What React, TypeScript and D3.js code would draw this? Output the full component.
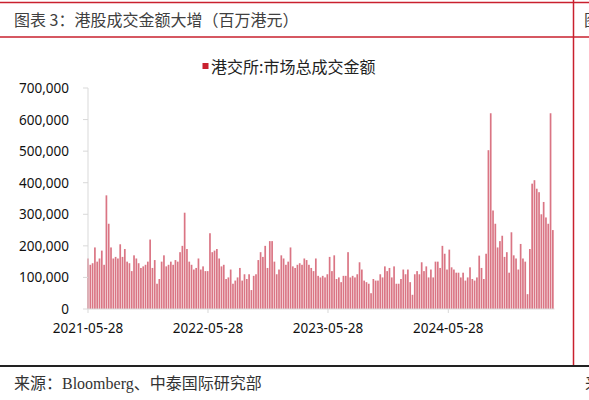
import React from 'react';
import * as d3 from 'd3';

// weekly turnover readings (HKD mn), one per week starting 2021-05-28
const startDate = new Date(2021, 4, 28);
const endDate = new Date(2025, 3, 16);

const turnover = [
  160000, 140000, 145000, 195000, 150000, 160000, 185000, 140000, 360000, 270000,
  195000, 160000, 165000, 160000, 205000, 165000, 190000, 150000, 145000, 120000,
  170000, 160000, 145000, 130000, 135000, 140000, 150000, 220000, 130000, 155000,
  80000, 95000, 150000, 170000, 135000, 140000, 150000, 140000, 155000, 150000,
  180000, 200000, 305000, 190000, 150000, 140000, 125000, 130000, 160000, 125000,
  135000, 120000, 120000, 240000, 180000, 185000, 190000, 160000, 135000, 140000,
  95000, 100000, 125000, 80000, 90000, 100000, 130000, 90000, 110000, 95000,
  110000, 60000, 105000, 110000, 155000, 180000, 165000, 200000, 130000, 215000,
  215000, 150000, 110000, 125000, 170000, 160000, 140000, 150000, 195000, 135000,
  130000, 140000, 145000, 140000, 160000, 155000, 140000, 130000, 120000, 160000,
  105000, 100000, 105000, 100000, 110000, 165000, 120000, 170000, 95000, 100000,
  85000, 105000, 105000, 180000, 100000, 105000, 100000, 110000, 148000, 125000,
  90000, 85000, 80000, 50000, 95000, 90000, 90000, 110000, 100000, 135000,
  120000, 130000, 100000, 135000, 80000, 80000, 95000, 125000, 110000, 125000,
  85000, 45000, 110000, 120000, 110000, 148000, 120000, 135000, 100000, 125000,
  100000, 150000, 150000, 130000, 200000, 175000, 125000, 188000, 132000, 125000,
  115000, 115000, 100000, 115000, 90000, 100000, 132000, 95000, 90000, 100000,
  169000, 130000, 95000, 175000, 503000, 620000, 312000, 270000, 195000, 215000,
  232000, 165000, 180000, 115000, 243000, 170000, 160000, 125000, 206000, 160000,
  150000, 47000, 190000, 397000, 408000, 381000, 370000, 300000, 339000, 290000,
  270000, 620000, 250000,
];

const xTickLabels = ['2021-05-28', '2022-05-28', '2023-05-28', '2024-05-28'];
const yTickValues = [0, 100000, 200000, 300000, 400000, 500000, 600000, 700000];

const title = '图表 3：港股成交金额大增（百万港元）';
const legendLabel = '港交所:市场总成交金额';
const source = '来源：Bloomberg、中泰国际研究部';

const RED = '#c9202e';
const BAR = '#c8344a';

export default function App() {
  const width = 589;
  const height = 400;
  const plot = { left: 88, right: 554.5, top: 88, bottom: 309 };

  const xScale = d3.scaleTime().domain([startDate, endDate]).range([plot.left, plot.right]);
  const yScale = d3.scaleLinear().domain([0, 700000]).range([plot.bottom, plot.top]);
  const fmt = d3.format(',');

  const weeks = turnover.map((_, i) => d3.timeDay.offset(startDate, i * 7));
  const xTicks = xTickLabels.map(s => d3.timeParse('%Y-%m-%d')(s) as Date);

  const sans = "'Noto Sans', 'Noto Sans CJK SC', sans-serif";
  const cjk = "'Noto Sans CJK SC', sans-serif";
  const serif = "'Liberation Serif', 'Noto Sans CJK SC', serif";

  return (
    <div style={{ position: 'fixed', left: 0, top: 0 }}>
      <svg width={width} height={height} style={{ display: 'block', background: '#fff' }}>
        {/* frame lines */}
        <line x1={0} x2={width} y1={2.5} y2={2.5} stroke={RED} strokeWidth={1.5} />
        <line x1={0} x2={width} y1={37} y2={37} stroke={RED} strokeWidth={1.5} />
        <line x1={573.5} x2={573.5} y1={0} y2={366} stroke={RED} strokeWidth={1.5} />
        <line x1={0} x2={width} y1={366} y2={366} stroke="#222" strokeWidth={2} />

        <text x={14} y={19} dominantBaseline="central" fontSize={16} fill="#404040"
          fontFamily={cjk}>{title}</text>
        {/* neighbouring column, cut by the page edge */}
        <text x={584} y={19} dominantBaseline="central" fontSize={16} fill="#404040"
          fontFamily={cjk}>图</text>

        {/* legend */}
        <rect x={202.5} y={63} width={6} height={6} fill={RED} />
        <text x={211} y={66} dominantBaseline="central" fontSize={16} fill="#222"
          fontFamily={cjk}>{legendLabel}</text>

        {/* bars */}
        <g>
          {turnover.map((v, i) => (
            <rect key={i} x={xScale(weeks[i]) - 0.85} width={1.7} y={yScale(v)}
              height={plot.bottom - yScale(v)} fill={BAR} opacity={0.68} />
          ))}
        </g>

        {/* y axis */}
        <line x1={plot.left} x2={plot.left} y1={plot.top} y2={plot.bottom} stroke="#d9d9d9" />
        {yTickValues.map(t => (
          <g key={t}>
            <line x1={plot.left - 5} x2={plot.left} y1={yScale(t)} y2={yScale(t)} stroke="#d9d9d9" />
            <text x={69} y={yScale(t)} textAnchor="end" dominantBaseline="central"
              fontSize={13.5} fill="#111" fontFamily={sans}>{fmt(t)}</text>
          </g>
        ))}

        {/* x axis */}
        <line x1={plot.left} x2={plot.right} y1={plot.bottom} y2={plot.bottom} stroke="#d9d9d9" />
        {xTicks.map((d, i) => (
          <g key={i}>
            <line x1={xScale(d)} x2={xScale(d)} y1={plot.bottom} y2={plot.bottom + 4} stroke="#d9d9d9" />
            <text x={xScale(d)} y={328} textAnchor="middle" dominantBaseline="central"
              fontSize={13.5} fill="#111" fontFamily={sans}>{xTickLabels[i]}</text>
          </g>
        ))}

        {/* source */}
        <text x={14} y={383} dominantBaseline="central" fontSize={16} fill="#333"
          fontFamily={serif}>{source}</text>
        <text x={585} y={383} dominantBaseline="central" fontSize={16} fill="#333"
          fontFamily={serif}>来</text>
      </svg>
    </div>
  );
}
